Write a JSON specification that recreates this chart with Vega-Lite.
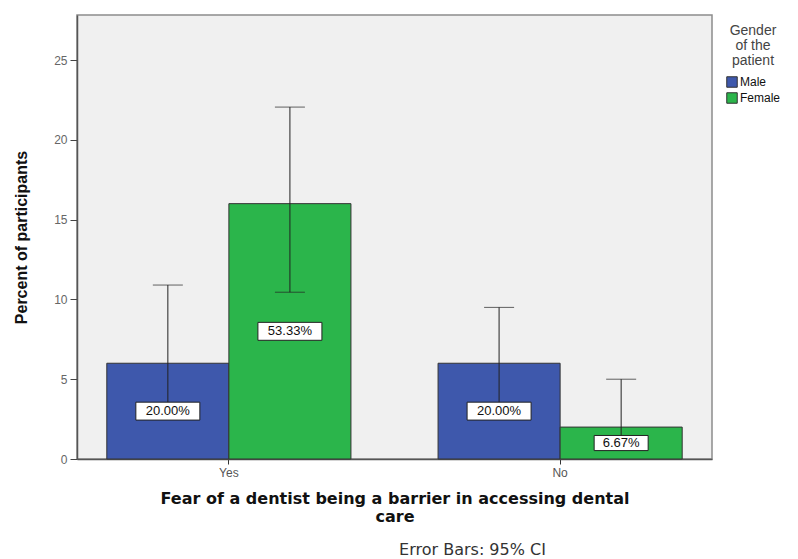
{
  "$schema": "https://vega.github.io/schema/vega-lite/v6.json",
  "width": 635,
  "height": 444,
  "autosize": {"type": "none"},
  "padding": {"left": 77, "top": 15, "right": 86, "bottom": 100},
  "background": "white",
  "config": {
    "view": {"fill": "#F0F0F0", "stroke": "#8C8C8C", "strokeWidth": 1.5},
    "font": "Liberation Sans"
  },
  "title": {
    "text": "Error Bars: 95% CI",
    "orient": "bottom",
    "anchor": "middle",
    "dx": 78,
    "offset": 18,
    "font": "DejaVu Sans",
    "fontSize": 16,
    "fontWeight": "normal",
    "color": "#333333"
  },
  "data": {
    "values": [
      {"fear": "Yes", "gender": "Male", "count": 6, "lo": 2.9, "hi": 10.9},
      {"fear": "Yes", "gender": "Female", "count": 16, "lo": 10.45, "hi": 22.05},
      {"fear": "No", "gender": "Male", "count": 6, "lo": 2.9, "hi": 9.5},
      {"fear": "No", "gender": "Female", "count": 2, "lo": 0.8, "hi": 5.0}
    ]
  },
  "transform": [
    {"calculate": "datum.count / 30", "as": "share"},
    {"calculate": "datum.count / 2", "as": "mid"}
  ],
  "encoding": {
    "x": {
      "field": "fear",
      "type": "nominal",
      "sort": ["Yes", "No"],
      "scale": {"paddingInner": 0.263, "paddingOuter": 0.09},
      "axis": {
        "title": ["Fear of a dentist being a barrier in accessing dental", "care"],
        "titleFont": "DejaVu Sans",
        "titleFontSize": 16,
        "titleFontWeight": "bold",
        "titleColor": "#111111",
        "titleLineHeight": 18,
        "titlePadding": 12,
        "labelAngle": 0,
        "labelColor": "#555555",
        "labelFontSize": 12,
        "labelPadding": 3,
        "tickColor": "#333333",
        "tickSize": 5,
        "domainColor": "#555555",
        "domainWidth": 1.5
      }
    },
    "xOffset": {
      "field": "gender",
      "type": "nominal",
      "sort": ["Male", "Female"],
      "scale": {"paddingInner": 0, "paddingOuter": 0}
    }
  },
  "layer": [
    {
      "mark": {"type": "bar", "stroke": "#333333", "strokeWidth": 1},
      "encoding": {
        "y": {
          "field": "count",
          "type": "quantitative",
          "scale": {"domain": [0, 27.82], "nice": false},
          "axis": {
            "title": "Percent of participants",
            "titleFont": "Liberation Sans",
            "titleFontSize": 16,
            "titleFontWeight": "bold",
            "titleColor": "#111111",
            "titlePadding": 24,
            "values": [0, 5, 10, 15, 20, 25],
            "grid": false,
            "labelColor": "#666666",
            "labelFontSize": 12,
            "labelPadding": 3,
            "tickColor": "#444444",
            "tickSize": 7,
            "domainColor": "#555555",
            "domainWidth": 1.5
          }
        },
        "color": {
          "field": "gender",
          "type": "nominal",
          "sort": ["Male", "Female"],
          "scale": {"domain": ["Male", "Female"], "range": ["#3E58AC", "#2BB54B"]},
          "legend": {
            "orient": "none",
            "legendX": 649,
            "legendY": 9,
            "title": ["Gender", "of the", "patient"],
            "titleFont": "Liberation Sans",
            "titleFontSize": 14,
            "titleFontWeight": "normal",
            "titleColor": "#444444",
            "titleAlign": "center",
            "titleAnchor": "middle",
            "titleLineHeight": 15,
            "titlePadding": 8,
            "symbolType": "square",
            "symbolSize": 110,
            "symbolStrokeColor": "#333333",
            "symbolStrokeWidth": 1,
            "symbolOpacity": 1,
            "labelFont": "Liberation Sans",
            "labelFontSize": 12,
            "labelColor": "#111111",
            "labelOffset": 2,
            "rowPadding": 0
          }
        }
      }
    },
    {
      "mark": {"type": "rule", "color": "#222222", "strokeWidth": 1},
      "encoding": {
        "y": {"field": "lo", "type": "quantitative"},
        "y2": {"field": "hi"}
      }
    },
    {
      "mark": {"type": "tick", "color": "#222222", "thickness": 1, "size": 30, "orient": "horizontal"},
      "encoding": {"y": {"field": "hi", "type": "quantitative"}}
    },
    {
      "mark": {"type": "tick", "color": "#222222", "thickness": 1, "size": 30, "orient": "horizontal"},
      "encoding": {"y": {"field": "lo", "type": "quantitative"}}
    },
    {
      "mark": {
        "type": "point",
        "shape": "M-1,-0.28L1,-0.28L1,0.28L-1,0.28Z",
        "filled": true,
        "fill": "white",
        "stroke": "#222222",
        "strokeWidth": 1,
        "opacity": 1
      },
      "encoding": {
        "y": {"field": "mid", "type": "quantitative"},
        "size": {"condition": {"test": "datum.share < 0.1", "value": 2916}, "value": 4096}
      }
    },
    {
      "mark": {"type": "text", "font": "Liberation Sans", "fontSize": 13, "color": "#111111", "baseline": "middle", "align": "center"},
      "encoding": {
        "y": {"field": "mid", "type": "quantitative"},
        "text": {"field": "share", "type": "quantitative", "format": ".2%"}
      }
    }
  ]
}
